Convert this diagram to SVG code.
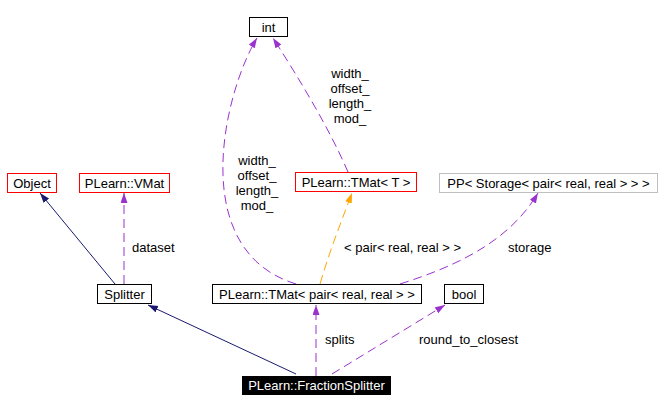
<svg xmlns="http://www.w3.org/2000/svg" width="660" height="412" viewBox="0 0 660 412">
<style>
text{font-family:"Liberation Sans",Arial,sans-serif;font-size:13px;fill:#000}
.box{fill:#fff;stroke:#000;stroke-width:1}
.red{stroke:#ff0000}
.grey{stroke:#bfbfbf}
.e{fill:none;stroke-width:1}
.navy{stroke:#191970}
.pur{stroke:#9a32cd;stroke-dasharray:9,5}
.org{stroke:#ffa500;stroke-dasharray:9,5}
.m{text-anchor:middle}
</style>
<defs>
<marker id="an" markerUnits="userSpaceOnUse" markerWidth="11" markerHeight="8" refX="10" refY="3.5" orient="auto"><path d="M0,0 L10,3.5 L0,7 z" fill="#191970"/></marker>
<marker id="ap" markerUnits="userSpaceOnUse" markerWidth="11" markerHeight="8" refX="10" refY="3.5" orient="auto"><path d="M0,0 L10,3.5 L0,7 z" fill="#9a32cd"/></marker>
<marker id="ao" markerUnits="userSpaceOnUse" markerWidth="11" markerHeight="8" refX="10" refY="3.5" orient="auto"><path d="M0,0 L10,3.5 L0,7 z" fill="#ffa500"/></marker>
</defs>
<rect width="660" height="412" fill="#fff"/>
<g id="edges">
<path class="e navy" d="M115,284 L40,193" marker-end="url(#an)"/>
<path class="e pur" d="M124,284 L124,193" marker-end="url(#ap)"/>
<text x="132" y="252">dataset</text>
<path class="e navy" d="M296,374 L148,305" marker-end="url(#an)"/>
<path class="e pur" d="M296,284 C185,250 225,90 257,38" marker-end="url(#ap)"/>
<text class="m" x="257" y="165">width_</text>
<text class="m" x="257" y="180">offset_</text>
<text class="m" x="257" y="195">length_</text>
<text class="m" x="257" y="210">mod_</text>
<path class="e pur" d="M348,172 C330,130 300,80 273,38" marker-end="url(#ap)"/>
<text class="m" x="350" y="78">width_</text>
<text class="m" x="350" y="93">offset_</text>
<text class="m" x="350" y="108">length_</text>
<text class="m" x="350" y="123">mod_</text>
<path class="e org" d="M320,284 C330,250 340,225 352,193" marker-end="url(#ao)"/>
<text x="344" y="252">&lt; pair&lt; real, real &gt; &gt;</text>
<path class="e pur" d="M400,284 C460,265 510,240 538,193" marker-end="url(#ap)"/>
<text x="508" y="252">storage</text>
<path class="e pur" d="M316,376 L316,305" marker-end="url(#ap)"/>
<text x="325" y="344">splits</text>
<path class="e pur" d="M332,374 L445,305" marker-end="url(#ap)"/>
<text x="419" y="344">round_to_closest</text>
</g>
<g id="int"><rect class="box" x="249.5" y="17.5" width="38" height="19"/><text class="m" x="268.5" y="32">int</text></g>
<g id="Object"><rect class="box red" x="7.5" y="173.5" width="49" height="19"/><text class="m" x="32" y="188">Object</text></g>
<g id="VMat"><rect class="box red" x="79.5" y="173.5" width="90" height="19"/><text class="m" x="124.5" y="188">PLearn::VMat</text></g>
<g id="TMatT"><rect class="box red" x="295.5" y="172.5" width="121" height="19"/><text class="m" x="356" y="187">PLearn::TMat&lt; T &gt;</text></g>
<g id="PP"><rect class="box grey" x="439.5" y="173.5" width="218" height="19"/><text class="m" x="548.5" y="188">PP&lt; Storage&lt; pair&lt; real, real &gt; &gt; &gt;</text></g>
<g id="Splitter"><rect class="box" x="97.5" y="284.5" width="54" height="19"/><text class="m" x="124.5" y="299">Splitter</text></g>
<g id="TMatPair"><rect class="box" x="212.5" y="284.5" width="209" height="19"/><text class="m" x="317" y="299">PLearn::TMat&lt; pair&lt; real, real &gt; &gt;</text></g>
<g id="bool"><rect class="box" x="444.5" y="284.5" width="39" height="19"/><text class="m" x="464" y="299">bool</text></g>
<g id="FractionSplitter"><rect x="242" y="376" width="149" height="19" fill="#000"/><text class="m" x="316.5" y="390" style="fill:#fff">PLearn::FractionSplitter</text></g>
</svg>
